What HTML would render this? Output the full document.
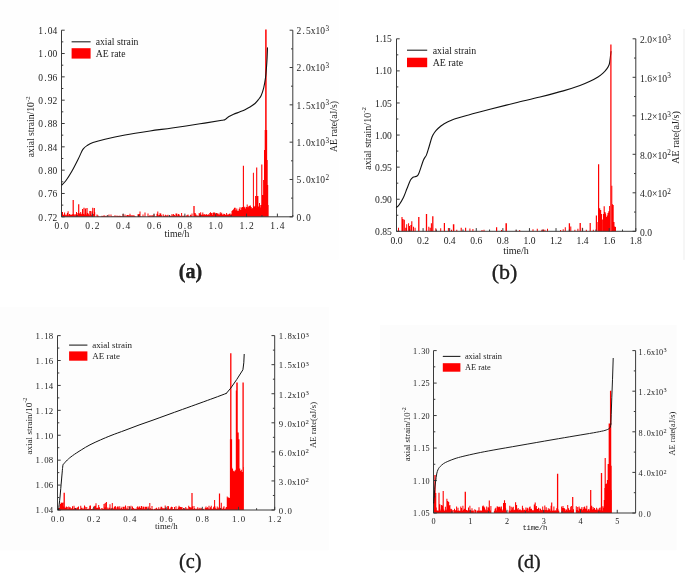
<!DOCTYPE html>
<html lang="en"><head><meta charset="utf-8"><title>Axial strain and AE rate</title>
<style>html,body{margin:0;padding:0;background:#fff}svg{display:block}text{font-family:'Liberation Serif',serif;fill:#222}</style></head><body>
<svg width="685" height="574" viewBox="0 0 685 574">
<rect width="685" height="574" fill="#fff"/>
<rect x="0" y="0" width="338.5" height="259.5" fill="#fefefe"/>
<rect x="0" y="307" width="328.8" height="243.4" fill="#fdfdfd"/>
<rect x="380" y="324.8" width="296.6" height="225.5" fill="#fcfcfc"/>
<rect x="683" y="29" width="2" height="230.8" fill="#f6f6f6"/>
<g transform="translate(0 0)">
<path d="M62 216.8V212.07h1V216.8zM62.7 216.8V215.01h1V216.8zM63.4 216.8V214.39h1V216.8zM64.1 216.8V212.5h1V216.8zM64.8 216.8V215.3h1V216.8zM65.5 216.8V214.46h1V216.8zM66.2 216.8V215.3h1V216.8zM66.9 216.8V212.96h1V216.8zM67.6 216.8V211.28h1V216.8zM68.3 216.8V215.3h1V216.8zM69 216.8V213.98h1V216.8zM69.7 216.8V214.65h1V216.8zM70.4 216.8V214.5h1V216.8zM71.1 216.8V215.08h1V216.8zM71.8 216.8V214.19h1V216.8zM72.5 216.8V215.06h1V216.8zM73.2 216.8V214.35h1V216.8zM73.9 216.8V215.3h1V216.8zM74.6 216.8V213.91h1V216.8zM75.3 216.8V215.14h1V216.8zM76 216.8V211.97h1V216.8zM76.7 216.8V214.8h1V216.8zM77.4 216.8V213.02h1V216.8zM78.1 216.8V214.5h1V216.8zM78.8 216.8V213.28h1V216.8zM79.5 216.8V213.75h1V216.8zM80.2 216.8V212.08h1V216.8zM80.9 216.8V213.74h1V216.8zM81.6 216.8V215.03h1V216.8zM82.3 216.8V214.53h1V216.8zM83 216.8V213.94h1V216.8zM83.7 216.8V213.25h1V216.8zM84.4 216.8V214.43h1V216.8zM85.1 216.8V212.57h1V216.8zM85.8 216.8V214.6h1V216.8zM86.5 216.8V215.3h1V216.8zM87.2 216.8V213.07h1V216.8zM87.9 216.8V213.72h1V216.8zM88.6 216.8V215.17h1V216.8zM89.3 216.8V210.96h1V216.8zM90 216.8V213.99h1V216.8zM90.7 216.8V215.06h1V216.8zM91.4 216.8V211.22h1V216.8zM92.1 216.8V214.35h1V216.8zM92.8 216.8V213.95h1V216.8zM93.5 216.8V215.3h1V216.8zM94.2 216.8V212.27h1V216.8zM72.6 216.8V200.1h1.2V216.8zM78.1 216.8V204.2h1.2V216.8zM82 216.8V209h1V216.8zM83.4 216.8V207.7h1.2V216.8zM85 216.8V208.5h1V216.8zM86.4 216.8V208h1.2V216.8zM89.9 216.8V211h1V216.8zM92.2 216.8V207.7h1V216.8zM93.7 216.8V208h1.2V216.8zM96.5 216.8V214.53h1V216.8zM97.5 216.8V215.45h1V216.8zM98.5 216.8V216.29h1V216.8zM100.5 216.8V216.19h1V216.8zM101.5 216.8V215.67h1V216.8zM102.5 216.8V215.98h1V216.8zM103.5 216.8V215.25h1V216.8zM104.5 216.8V215.73h1V216.8zM105.5 216.8V216.16h1V216.8zM106.5 216.8V215.38h1V216.8zM108.5 216.8V214.58h1V216.8zM110.5 216.8V214.39h1V216.8zM111.5 216.8V216.28h1V216.8zM112.5 216.8V216.3h1V216.8zM113.5 216.8V216.13h1V216.8zM114.5 216.8V215.25h1V216.8zM115.5 216.8V216.29h1V216.8zM116.5 216.8V215.55h1V216.8zM117.5 216.8V216.1h1V216.8zM118.5 216.8V215.74h1V216.8zM119.5 216.8V215.69h1V216.8zM120.5 216.8V215.9h1V216.8zM121.5 216.8V216.2h1V216.8zM122.5 216.8V214.11h1V216.8zM123.5 216.8V216.18h1V216.8zM124.5 216.8V214.5h1V216.8zM125.5 216.8V216.3h1V216.8zM126.5 216.8V214.9h1V216.8zM127.5 216.8V214.96h1V216.8zM128.5 216.8V215.5h1V216.8zM129.5 216.8V213.73h1V216.8zM130.5 216.8V215.58h1V216.8zM131.5 216.8V215.16h1V216.8zM132.5 216.8V215.4h1V216.8zM133.5 216.8V215.23h1V216.8zM134.5 216.8V216.06h1V216.8zM137.5 216.8V214.31h1V216.8zM138.5 216.8V213.92h1V216.8zM139.5 216.8V215.83h1V216.8zM140.5 216.8V216.3h1V216.8zM142.5 216.8V214.49h1V216.8zM144.5 216.8V216.22h1V216.8zM147.5 216.8V215.6h1V216.8zM148.5 216.8V215.98h1V216.8zM149.5 216.8V215.07h1V216.8zM150.5 216.8V216.2h1V216.8zM151.5 216.8V215.1h1V216.8zM152.5 216.8V215.63h1V216.8zM153.5 216.8V214.25h1V216.8zM155.5 216.8V216.19h1V216.8zM156.5 216.8V213.67h1V216.8zM157.5 216.8V215.99h1V216.8zM158.5 216.8V215.07h1V216.8zM139.5 216.8V211.5h1V216.8zM144.5 216.8V212.5h1V216.8zM147.5 216.8V213.5h1V216.8zM157.3 216.8V211.5h1V216.8zM159.5 216.8V213.37h1V216.8zM160.3 216.8V213.62h1V216.8zM161.1 216.8V215.14h1V216.8zM162.7 216.8V214.33h1V216.8zM163.5 216.8V215.72h1V216.8zM164.3 216.8V215.67h1V216.8zM165.1 216.8V214.79h1V216.8zM165.9 216.8V215.42h1V216.8zM166.7 216.8V215.56h1V216.8zM167.5 216.8V214.78h1V216.8zM169.1 216.8V215.75h1V216.8zM169.9 216.8V215.77h1V216.8zM170.7 216.8V215.78h1V216.8zM171.5 216.8V214.06h1V216.8zM172.3 216.8V215.47h1V216.8zM173.1 216.8V214.09h1V216.8zM173.9 216.8V214.89h1V216.8zM174.7 216.8V215.78h1V216.8zM175.5 216.8V213.58h1V216.8zM176.3 216.8V213.4h1V216.8zM177.1 216.8V215.58h1V216.8zM177.9 216.8V213.88h1V216.8zM178.7 216.8V214.54h1V216.8zM179.5 216.8V215.76h1V216.8zM180.3 216.8V215.8h1V216.8zM181.1 216.8V213.07h1V216.8zM181.9 216.8V215.76h1V216.8zM182.7 216.8V215.64h1V216.8zM183.5 216.8V215.77h1V216.8zM184.3 216.8V215.4h1V216.8zM185.9 216.8V215.56h1V216.8zM186.7 216.8V215.16h1V216.8zM187.5 216.8V214.61h1V216.8zM188.3 216.8V215.8h1V216.8zM189.9 216.8V214.8h1V216.8zM190.7 216.8V215.53h1V216.8zM191.5 216.8V213.46h1V216.8zM193.9 216.8V215.67h1V216.8zM194.7 216.8V213.11h1V216.8zM195.5 216.8V214.47h1V216.8zM196.3 216.8V215.61h1V216.8zM197.1 216.8V215.54h1V216.8zM197.9 216.8V215.78h1V216.8zM198.7 216.8V213.09h1V216.8zM199.5 216.8V213.72h1V216.8zM200.2 216.8V212.35h1V216.8zM200.9 216.8V214.72h1V216.8zM201.6 216.8V214.7h1V216.8zM202.3 216.8V212.6h1V216.8zM203 216.8V214.66h1V216.8zM203.7 216.8V213.99h1V216.8zM204.4 216.8V214.82h1V216.8zM205.1 216.8V214.82h1V216.8zM205.8 216.8V214.09h1V216.8zM206.5 216.8V214.98h1V216.8zM207.2 216.8V214.75h1V216.8zM207.9 216.8V214.27h1V216.8zM208.6 216.8V214.93h1V216.8zM209.3 216.8V213.1h1V216.8zM210 216.8V212.3h1V216.8zM210.7 216.8V213.19h1V216.8zM211.4 216.8V212.98h1V216.8zM212.1 216.8V214.97h1V216.8zM212.8 216.8V212.46h1V216.8zM213.5 216.8V212.6h1V216.8zM214.2 216.8V212.51h1V216.8zM214.9 216.8V214.7h1V216.8zM215.6 216.8V213.06h1V216.8zM216.3 216.8V212.88h1V216.8zM217 216.8V213.57h1V216.8zM217.7 216.8V214.44h1V216.8zM218.4 216.8V213.47h1V216.8zM219.1 216.8V214.81h1V216.8zM219.8 216.8V212.22h1V216.8zM220.5 216.8V214.09h1V216.8zM221.2 216.8V212.83h1V216.8zM221.9 216.8V214.53h1V216.8zM222.6 216.8V214.8h1V216.8zM223.3 216.8V213.75h1V216.8zM224 216.8V214.02h1V216.8zM224.7 216.8V214.62h1V216.8zM225.4 216.8V214.95h1V216.8zM226.1 216.8V212.94h1V216.8zM226.8 216.8V214.52h1V216.8zM227.5 216.8V214.84h1V216.8zM228.2 216.8V214.16h1V216.8zM228.9 216.8V213.74h1V216.8zM229.6 216.8V213.59h1V216.8zM230.3 216.8V214.83h1V216.8zM231 216.8V214.31h1V216.8zM193.35 216.8V206h1.3V216.8zM231.5 216.8V210.9h1V216.8zM232.3 216.8V210.04h1V216.8zM233.1 216.8V209.35h1V216.8zM233.9 216.8V207.85h1V216.8zM234.7 216.8V207.7h1V216.8zM235.5 216.8V210.17h1V216.8zM236.3 216.8V208.57h1V216.8zM237.1 216.8V210.86h1V216.8zM237.9 216.8V210.66h1V216.8zM238.7 216.8V208.79h1V216.8zM239.5 216.8V207.22h1V216.8zM240.3 216.8V209.99h1V216.8zM241.1 216.8V207.46h1V216.8zM241.9 216.8V206.88h1V216.8zM242.7 216.8V209.06h1V216.8zM243.5 216.8V207.43h1V216.8zM244.3 216.8V206.7h1V216.8zM245.1 216.8V208.5h1V216.8zM245.9 216.8V207.07h1V216.8zM246.7 216.8V206.83h1V216.8zM247.5 216.8V207.29h1V216.8zM248.3 216.8V206.13h1V216.8zM249.1 216.8V205.87h1V216.8zM249.9 216.8V205.51h1V216.8zM250.7 216.8V206.96h1V216.8zM251.5 216.8V208.43h1V216.8zM252.3 216.8V208.02h1V216.8zM253.1 216.8V208.05h1V216.8zM253.9 216.8V206.54h1V216.8zM254.7 216.8V205.68h1V216.8zM255.5 216.8V208.39h1V216.8zM256.3 216.8V205.77h1V216.8zM257.1 216.8V205.52h1V216.8zM257.9 216.8V206.89h1V216.8zM258.7 216.8V206.11h1V216.8zM259.5 216.8V207.41h1V216.8zM260.3 216.8V205.04h1V216.8zM261.1 216.8V207.69h1V216.8zM242.85 216.8V165.8h1.1V216.8zM246.7 216.8V204.6h1V216.8zM252.9 216.8V172.8h1V216.8zM256.15 216.8V167.5h1.1V216.8zM255.1 216.8V196h1V216.8zM257.2 216.8V196h1.2V216.8zM259 216.8V203h1V216.8zM261.25 216.8V164.4h1.1V216.8zM262.3 216.8V195h1V216.8zM263.1 216.8V180h1V216.8zM264 216.8V150h1V216.8zM264.7 216.8V130h1V216.8zM265.15 216.8V29.6h1.5V216.8zM266.25 216.8V130h0.9V216.8zM266.9 216.8V160h0.8V216.8zM267.4 216.8V185h0.8V216.8zM267.95 216.8V205h0.7V216.8z" fill="#ff0000"/>
<path d="M61.5 30.2V216.8H292.8V30.2" fill="none" stroke="#3a3a3a" stroke-width="1"/>
<path d="M61.5 216.8v-3.2M92.34 216.8v-3.2M123.18 216.8v-3.2M154.02 216.8v-3.2M184.86 216.8v-3.2M215.7 216.8v-3.2M246.54 216.8v-3.2M277.38 216.8v-3.2M76.92 216.8v-1.8M107.76 216.8v-1.8M138.6 216.8v-1.8M169.44 216.8v-1.8M200.28 216.8v-1.8M231.12 216.8v-1.8M261.96 216.8v-1.8M292.8 216.8v-1.8M61.5 30.2h3.2M61.5 53.53h3.2M61.5 76.85h3.2M61.5 100.18h3.2M61.5 123.5h3.2M61.5 146.83h3.2M61.5 170.15h3.2M61.5 193.48h3.2M61.5 216.8h3.2M61.5 41.86h1.8M61.5 65.19h1.8M61.5 88.51h1.8M61.5 111.84h1.8M61.5 135.16h1.8M61.5 158.49h1.8M61.5 181.81h1.8M61.5 205.14h1.8M292.8 30.2h-3.2M292.8 67.52h-3.2M292.8 104.84h-3.2M292.8 142.16h-3.2M292.8 179.48h-3.2M292.8 216.8h-3.2M292.8 48.86h-1.8M292.8 86.18h-1.8M292.8 123.5h-1.8M292.8 160.82h-1.8M292.8 198.14h-1.8" fill="none" stroke="#3a3a3a" stroke-width="1"/>
<path d="M62 184.8 C62.67 184.08 64.33 182.8 66 180.5 C67.67 178.2 70 174.5 72 171 C74 167.5 76.42 162.67 78 159.5 C79.58 156.33 80.58 153.82 81.5 152 C82.42 150.18 82.58 149.67 83.5 148.6 C84.42 147.53 85.42 146.6 87 145.6 C88.58 144.6 90 143.67 93 142.6 C96 141.53 99.67 140.47 105 139.2 C110.33 137.93 117.5 136.37 125 135 C132.5 133.63 142.17 132.17 150 131 C157.83 129.83 163.67 129.2 172 128 C180.33 126.8 191.67 125.08 200 123.8 C208.33 122.52 217.83 121 222 120.3 C226.17 119.6 224.17 119.98 225 119.6 C225.83 119.22 226.33 118.52 227 118 C227.67 117.48 227.9 117.12 229 116.5 C230.1 115.88 231.77 115.08 233.6 114.3 C235.43 113.52 238.1 112.57 240 111.8 C241.9 111.03 243.33 110.5 245 109.7 C246.67 108.9 248.33 108.03 250 107 C251.67 105.97 253.58 104.75 255 103.5 C256.42 102.25 257.47 100.85 258.5 99.5 C259.53 98.15 260.33 97.33 261.2 95.4 C262.07 93.47 262.98 90.83 263.7 87.9 C264.42 84.97 265.03 81.28 265.5 77.8 C265.97 74.32 266.23 70.3 266.5 67 C266.77 63.7 266.93 61.22 267.1 58 C267.27 54.78 267.43 49.42 267.5 47.7" fill="none" stroke="#111" stroke-width="1.1" stroke-linejoin="round" stroke-linecap="round"/>
<text x="56.75 61.5 66.25" y="229.3" font-size="9.5" text-anchor="middle">0.0</text>
<text x="87.59 92.34 97.09" y="229.3" font-size="9.5" text-anchor="middle">0.2</text>
<text x="118.43 123.18 127.93" y="229.3" font-size="9.5" text-anchor="middle">0.4</text>
<text x="149.27 154.02 158.77" y="229.3" font-size="9.5" text-anchor="middle">0.6</text>
<text x="180.11 184.86 189.61" y="229.3" font-size="9.5" text-anchor="middle">0.8</text>
<text x="210.95 215.7 220.45" y="229.3" font-size="9.5" text-anchor="middle">1.0</text>
<text x="241.79 246.54 251.29" y="229.3" font-size="9.5" text-anchor="middle">1.2</text>
<text x="272.63 277.38 282.13" y="229.3" font-size="9.5" text-anchor="middle">1.4</text>
<text x="40.67 45.42 50.17 54.92" y="33.9" font-size="9.5" text-anchor="middle">1.04</text>
<text x="40.67 45.42 50.17 54.92" y="57.23" font-size="9.5" text-anchor="middle">1.00</text>
<text x="40.67 45.42 50.17 54.92" y="80.55" font-size="9.5" text-anchor="middle">0.96</text>
<text x="40.67 45.42 50.17 54.92" y="103.88" font-size="9.5" text-anchor="middle">0.92</text>
<text x="40.67 45.42 50.17 54.92" y="127.2" font-size="9.5" text-anchor="middle">0.88</text>
<text x="40.67 45.42 50.17 54.92" y="150.53" font-size="9.5" text-anchor="middle">0.84</text>
<text x="40.67 45.42 50.17 54.92" y="173.85" font-size="9.5" text-anchor="middle">0.80</text>
<text x="40.67 45.42 50.17 54.92" y="197.18" font-size="9.5" text-anchor="middle">0.76</text>
<text x="40.67 45.42 50.17 54.92" y="220.5" font-size="9.5" text-anchor="middle">0.72</text>
<text x="298.98 303.73 308.48 313.23 317.98 322.73" y="33.9" font-size="9.5" text-anchor="middle">2.5x10</text>
<text x="325.4" y="30.76" font-size="7.22" text-anchor="start">3</text>
<text x="298.98 303.73 308.48 313.23 317.98 322.73" y="71.22" font-size="9.5" text-anchor="middle">2.0x10</text>
<text x="325.4" y="68.09" font-size="7.22" text-anchor="start">3</text>
<text x="298.98 303.73 308.48 313.23 317.98 322.73" y="108.54" font-size="9.5" text-anchor="middle">1.5x10</text>
<text x="325.4" y="105.41" font-size="7.22" text-anchor="start">3</text>
<text x="298.98 303.73 308.48 313.23 317.98 322.73" y="145.86" font-size="9.5" text-anchor="middle">1.0x10</text>
<text x="325.4" y="142.72" font-size="7.22" text-anchor="start">3</text>
<text x="298.98 303.73 308.48 313.23 317.98 322.73" y="183.18" font-size="9.5" text-anchor="middle">5.0x10</text>
<text x="325.4" y="180.05" font-size="7.22" text-anchor="start">2</text>
<text x="298.98 303.73 308.48" y="220.5" font-size="9.5" text-anchor="middle">0.0</text>
<path d="M71.6 41.8H90.6" stroke="#222" stroke-width="1.1" fill="none"/>
<rect x="71.6" y="48.2" width="19" height="10.4" fill="#ff0000"/>
<text x="95.7" y="44.71" font-size="9.7" text-anchor="start">axial strain</text>
<text x="95.7" y="56.6" font-size="9.7" text-anchor="start">AE rate</text>
<text x="177" y="237" font-size="9.7" text-anchor="middle">time/h</text>
<text transform="translate(34.4 126.8) rotate(-90)" font-size="9.7" text-anchor="middle">axial strain/10<tspan font-size="6.79" dy="-4.66">-2</tspan></text>
<text transform="translate(337.3 126.5) rotate(-90)" font-size="9.7" text-anchor="middle">AE rate(aJ/s)</text>
<text x="190.5" y="277.7" font-size="20" text-anchor="middle" font-weight="bold" fill="#000" stroke="#000" stroke-width="0.3">(a)</text>
</g>
<g transform="translate(0 0)">
<path d="M398 231.3V227.7h1V231.3zM401.45 231.3V217.1h1.1V231.3zM402.5 231.3V218.9h1V231.3zM403.75 231.3V219.8h1.1V231.3zM405.2 231.3V227.7h1V231.3zM406.2 231.3V224.2h1V231.3zM408.1 231.3V223.3h1V231.3zM409 231.3V225.9h1V231.3zM410.4 231.3V225h1V231.3zM411.25 231.3V221.2h1.1V231.3zM413 231.3V226.8h1V231.3zM414.6 231.3V227.7h1V231.3zM418.15 231.3V217.1h1.3V231.3zM425.85 231.3V214h1.3V231.3zM428.3 231.3V226.8h1V231.3zM429.7 231.3V227.7h1V231.3zM430.85 231.3V223.3h1.1V231.3zM432.15 231.3V216.3h1.3V231.3zM435.3 231.3V228.2h1V231.3zM440.2 231.3V228.2h1V231.3zM443.8 231.3V222.9h1.2V231.3zM447.9 231.3V228h1V231.3zM451 231.3V229.8h1V231.3zM452.85 231.3V224.2h1.5V231.3zM456.3 231.3V229.8h1V231.3zM460.65 231.3V227.7h1.1V231.3zM465.05 231.3V227.7h1.1V231.3zM469.4 231.3V228.5h1V231.3zM472.4 231.3V229h1V231.3zM481.5 231.3V230h1V231.3zM483.5 231.3V229.8h1V231.3zM496 231.3V227.3h1.2V231.3zM501 231.3V230h1V231.3zM505.45 231.3V223.2h1.5V231.3zM515.7 231.3V230.3h1V231.3zM519.2 231.3V230h1V231.3zM532.5 231.3V229.3h1V231.3zM536.8 231.3V228.7h1V231.3zM541.3 231.3V229.7h1V231.3zM543 231.3V229.5h1V231.3zM544.4 231.3V229.7h1V231.3zM547 231.3V228.7h1V231.3zM560.1 231.3V230h1V231.3zM562.7 231.3V229.3h1V231.3zM564.8 231.3V227.3h1V231.3zM568.75 231.3V223.2h1.3V231.3zM570.3 231.3V226.6h1V231.3zM574.4 231.3V229.7h1V231.3zM577.4 231.3V228.7h1V231.3zM579.55 231.3V223h1.3V231.3zM581.8 231.3V227.7h1V231.3zM585.8 231.3V229.7h1V231.3zM589.6 231.3V223h1.2V231.3zM592.8 231.3V229.7h1V231.3zM595.8 231.3V215.4h1.2V231.3zM598 231.3V164.3h1.2V231.3zM597.4 231.3V222h1V231.3zM599 231.3V208.2h1.2V231.3zM600 231.3V210h1.2V231.3zM601.1 231.3V214h1V231.3zM602.2 231.3V219.5h1V231.3zM603 231.3V214h1V231.3zM603.65 231.3V206.2h1.1V231.3zM604.5 231.3V212h1V231.3zM605.1 231.3V213.4h1V231.3zM605.9 231.3V217h1V231.3zM606.7 231.3V215.4h1V231.3zM607.5 231.3V213h1V231.3zM608.3 231.3V211.3h1V231.3zM609.1 231.3V206h1V231.3zM611.3 231.3V185.8h1V231.3zM612 231.3V204.2h1V231.3zM612.7 231.3V205h1V231.3zM613.5 231.3V222h1V231.3zM614.3 231.3V226.6h1V231.3zM615.2 231.3V227h0.8V231.3z" fill="#ff0000"/>
<path d="M396.5 38.8V231.3H635.8V38.8" fill="none" stroke="#3a3a3a" stroke-width="1"/>
<path d="M396.5 231.3v-3.2M423.09 231.3v-3.2M449.68 231.3v-3.2M476.27 231.3v-3.2M502.86 231.3v-3.2M529.44 231.3v-3.2M556.03 231.3v-3.2M582.62 231.3v-3.2M609.21 231.3v-3.2M635.8 231.3v-3.2M409.79 231.3v-1.8M436.38 231.3v-1.8M462.97 231.3v-1.8M489.56 231.3v-1.8M516.15 231.3v-1.8M542.74 231.3v-1.8M569.33 231.3v-1.8M595.92 231.3v-1.8M622.51 231.3v-1.8M396.5 38.8h3.2M396.5 70.88h3.2M396.5 102.97h3.2M396.5 135.05h3.2M396.5 167.13h3.2M396.5 199.22h3.2M396.5 231.3h3.2M396.5 54.84h1.8M396.5 86.92h1.8M396.5 119.01h1.8M396.5 151.09h1.8M396.5 183.17h1.8M396.5 215.26h1.8M635.8 38.8h-3.2M635.8 77.3h-3.2M635.8 115.8h-3.2M635.8 154.3h-3.2M635.8 192.8h-3.2M635.8 231.3h-3.2M635.8 58.05h-1.8M635.8 96.55h-1.8M635.8 135.05h-1.8M635.8 173.55h-1.8M635.8 212.05h-1.8" fill="none" stroke="#3a3a3a" stroke-width="1"/>
<path d="M396.5 207.4 C396.92 207 397.87 206.6 399 205 C400.13 203.4 401.97 200.55 403.3 197.8 C404.63 195.05 405.8 191.47 407 188.5 C408.2 185.53 409.5 181.87 410.5 180 C411.5 178.13 411.92 177.97 413 177.3 C414.08 176.63 416 176.72 417 176 C418 175.28 417.93 175.63 419 173 C420.07 170.37 422.17 163.18 423.4 160.2 C424.63 157.22 425.47 157.3 426.4 155.1 C427.33 152.9 428.07 150.02 429 147 C429.93 143.98 431.08 139.42 432 137 C432.92 134.58 433.5 133.92 434.5 132.5 C435.5 131.08 436.5 129.88 438 128.5 C439.5 127.12 441.17 125.62 443.5 124.2 C445.83 122.78 447.82 121.53 452 120 C456.18 118.47 462.27 116.78 468.6 115 C474.93 113.22 482.27 111.3 490 109.3 C497.73 107.3 506.67 105.05 515 103 C523.33 100.95 531.95 99.02 540 97 C548.05 94.98 556.63 92.82 563.3 90.9 C569.97 88.98 575.55 87.1 580 85.5 C584.45 83.9 587 82.72 590 81.3 C593 79.88 595.83 78.35 598 77 C600.17 75.65 601.5 74.6 603 73.2 C604.5 71.8 605.97 70.05 607 68.6 C608.03 67.15 608.7 65.93 609.2 64.5 C609.7 63.07 609.77 61.58 610 60 C610.23 58.42 610.43 56.42 610.6 55 C610.77 53.58 610.93 52.08 611 51.5" fill="none" stroke="#111" stroke-width="1.1" stroke-linejoin="round" stroke-linecap="round"/>
<path d="M610.27 231.3V44.6h1.25V231.3z" fill="#ff0000"/>
<text x="396.5" y="244" font-size="9.6" text-anchor="middle">0.0</text>
<text x="423.09" y="244" font-size="9.6" text-anchor="middle">0.2</text>
<text x="449.68" y="244" font-size="9.6" text-anchor="middle">0.4</text>
<text x="476.27" y="244" font-size="9.6" text-anchor="middle">0.6</text>
<text x="502.86" y="244" font-size="9.6" text-anchor="middle">0.8</text>
<text x="529.44" y="244" font-size="9.6" text-anchor="middle">1.0</text>
<text x="556.03" y="244" font-size="9.6" text-anchor="middle">1.2</text>
<text x="582.62" y="244" font-size="9.6" text-anchor="middle">1.4</text>
<text x="609.21" y="244" font-size="9.6" text-anchor="middle">1.6</text>
<text x="635.8" y="244" font-size="9.6" text-anchor="middle">1.8</text>
<text x="391.9" y="42.4" font-size="9.6" text-anchor="end">1.15</text>
<text x="391.9" y="74.48" font-size="9.6" text-anchor="end">1.10</text>
<text x="391.9" y="106.57" font-size="9.6" text-anchor="end">1.05</text>
<text x="391.9" y="138.65" font-size="9.6" text-anchor="end">1.00</text>
<text x="391.9" y="170.73" font-size="9.6" text-anchor="end">0.95</text>
<text x="391.9" y="202.82" font-size="9.6" text-anchor="end">0.90</text>
<text x="391.9" y="234.9" font-size="9.6" text-anchor="end">0.85</text>
<text x="640" y="43.1" font-size="9.6" text-anchor="start">2.0×10</text>
<text x="667.31" y="39.93" font-size="7.3" text-anchor="start">3</text>
<text x="640" y="81.6" font-size="9.6" text-anchor="start">1.6×10</text>
<text x="667.31" y="78.43" font-size="7.3" text-anchor="start">3</text>
<text x="640" y="120.1" font-size="9.6" text-anchor="start">1.2×10</text>
<text x="667.31" y="116.93" font-size="7.3" text-anchor="start">3</text>
<text x="640" y="158.6" font-size="9.6" text-anchor="start">8.0×10</text>
<text x="667.31" y="155.43" font-size="7.3" text-anchor="start">2</text>
<text x="640" y="197.1" font-size="9.6" text-anchor="start">4.0×10</text>
<text x="667.31" y="193.93" font-size="7.3" text-anchor="start">2</text>
<text x="640" y="235.6" font-size="9.6" text-anchor="start">0.0</text>
<path d="M407 50.2H427.2" stroke="#222" stroke-width="1.1" fill="none"/>
<rect x="407" y="57.7" width="20.2" height="9.5" fill="#ff0000"/>
<text x="432.7" y="53.97" font-size="9.9" text-anchor="start">axial strain</text>
<text x="432.7" y="65.72" font-size="9.9" text-anchor="start">AE rate</text>
<text x="516" y="253.5" font-size="10" text-anchor="middle">time/h</text>
<text transform="translate(371 138.4) rotate(-90)" font-size="10" text-anchor="middle">axial strain/10<tspan font-size="7" dy="-4.8">-2</tspan></text>
<text transform="translate(678.7 137.4) rotate(-90)" font-size="10" text-anchor="middle">AE rate(aJ/s)</text>
<text x="504.5" y="278.8" font-size="22" text-anchor="middle" font-weight="normal" fill="#000" stroke="#000" stroke-width="0.3">(b)</text>
</g>
<g transform="translate(0 0)">
<path d="M58.5 510V507.96h1V510zM59.25 510V507.72h1V510zM60 510V508.98h1V510zM60.75 510V506.55h1V510zM61.5 510V508.81h1V510zM63 510V506.55h1V510zM63.75 510V507.57h1V510zM64.5 510V507.59h1V510zM65.25 510V508.04h1V510zM66 510V507.42h1V510zM66.75 510V506.99h1V510zM67.5 510V508.68h1V510zM68.25 510V506.38h1V510zM69 510V507.19h1V510zM69.75 510V507.22h1V510zM70.5 510V508.45h1V510zM71.25 510V508.31h1V510zM72 510V506.3h1V510zM72.75 510V508.94h1V510zM73.5 510V505.74h1V510zM74.25 510V507.63h1V510zM75 510V508.1h1V510zM75.75 510V508.57h1V510zM76.5 510V507.81h1V510zM77.25 510V507.37h1V510zM78 510V506.43h1V510zM79.5 510V508.91h1V510zM80.25 510V505.74h1V510zM81 510V507.87h1V510zM81.75 510V508.84h1V510zM82.5 510V507.85h1V510zM83.25 510V508.99h1V510zM84 510V505.57h1V510zM84.75 510V506.76h1V510zM85.5 510V508.92h1V510zM86.25 510V506.93h1V510zM87 510V508.99h1V510zM87.75 510V508.99h1V510zM88.5 510V508.62h1V510zM89.25 510V505.63h1V510zM90 510V505.51h1V510zM90.75 510V508.98h1V510zM91.5 510V509h1V510zM92.25 510V508.42h1V510zM93 510V508.91h1V510zM93.75 510V506.36h1V510zM94.5 510V505.78h1V510zM95.25 510V508.5h1V510zM96 510V508.05h1V510zM96.75 510V507.76h1V510zM97.5 510V507.65h1V510zM98.25 510V508.1h1V510zM99 510V507.18h1V510zM99.75 510V508.68h1V510zM101.25 510V507.95h1V510zM102 510V508.4h1V510zM102.75 510V509h1V510zM103.5 510V507.6h1V510zM104.25 510V507.62h1V510zM105 510V507.39h1V510zM105.75 510V507.25h1V510zM106.5 510V509h1V510zM107.25 510V507.4h1V510zM108 510V508.78h1V510zM108.75 510V507.77h1V510zM109.5 510V508.54h1V510zM110.25 510V508.52h1V510zM111 510V508.68h1V510zM111.75 510V506.91h1V510zM112.5 510V507.87h1V510zM113.25 510V508.66h1V510zM114 510V506.74h1V510zM114.75 510V508.88h1V510zM115.5 510V507.29h1V510zM116.25 510V508.64h1V510zM117 510V506.57h1V510zM117.75 510V506.44h1V510zM118.5 510V508.6h1V510zM119.25 510V506.26h1V510zM120 510V508.82h1V510zM120.75 510V508.02h1V510zM121.5 510V506.72h1V510zM122.25 510V508.88h1V510zM123 510V506.72h1V510zM123.75 510V506.72h1V510zM124.5 510V508.94h1V510zM125.25 510V506.79h1V510zM126 510V508.58h1V510zM126.75 510V508.38h1V510zM127.5 510V506.03h1V510zM128.25 510V509h1V510zM129 510V506.29h1V510zM130.5 510V505.84h1V510zM131.25 510V508.83h1V510zM132 510V506.55h1V510zM132.75 510V508.06h1V510zM133.5 510V508.59h1V510zM134.25 510V508.98h1V510zM135 510V508.71h1V510zM135.75 510V508.99h1V510zM136.5 510V507.32h1V510zM137.25 510V506.19h1V510zM138 510V507.83h1V510zM138.75 510V507.06h1V510zM139.5 510V508.69h1V510zM140.25 510V508.04h1V510zM141 510V505.91h1V510zM141.75 510V508.59h1V510zM142.5 510V506.4h1V510zM143.25 510V506.86h1V510zM144 510V508.86h1V510zM144.75 510V506.66h1V510zM145.5 510V506.81h1V510zM146.25 510V506.73h1V510zM147 510V509h1V510zM147.75 510V506.4h1V510zM148.5 510V508.74h1V510zM149.25 510V508.03h1V510zM150 510V508.22h1V510zM150.75 510V509h1V510zM151.5 510V508.94h1V510zM152.25 510V508.98h1V510zM153.75 510V508.97h1V510zM154.5 510V508.65h1V510zM155.25 510V508.57h1V510zM156 510V507.8h1V510zM156.75 510V508.87h1V510zM157.5 510V508.95h1V510zM158.25 510V507.21h1V510zM159 510V508.98h1V510zM159.75 510V508.51h1V510zM160.5 510V506.86h1V510zM161.25 510V506.75h1V510zM162 510V508.35h1V510zM162.75 510V508.14h1V510zM163.5 510V508.38h1V510zM164.25 510V508.26h1V510zM165 510V508h1V510zM165.75 510V508.98h1V510zM166.5 510V508.37h1V510zM167.25 510V505.93h1V510zM168 510V506.18h1V510zM168.75 510V508.76h1V510zM169.5 510V508.95h1V510zM170.25 510V507.46h1V510zM171 510V506.8h1V510zM171.75 510V507.12h1V510zM172.5 510V508.96h1V510zM173.25 510V509h1V510zM174 510V506.9h1V510zM174.75 510V508.97h1V510zM175.5 510V506.29h1V510zM176.25 510V509h1V510zM177 510V508.95h1V510zM177.75 510V507.41h1V510zM178.5 510V505.83h1V510zM179.25 510V506.77h1V510zM180 510V506.94h1V510zM180.75 510V507.21h1V510zM181.5 510V507.04h1V510zM182.25 510V508.99h1V510zM183 510V507.89h1V510zM183.75 510V508.79h1V510zM184.5 510V508.78h1V510zM185.25 510V507.01h1V510zM186 510V508.53h1V510zM186.75 510V508.57h1V510zM187.5 510V508.98h1V510zM188.25 510V505.69h1V510zM189 510V507.04h1V510zM189.75 510V507.33h1V510zM190.5 510V507.41h1V510zM191.25 510V508.18h1V510zM192 510V506.18h1V510zM192.75 510V508.97h1V510zM193.5 510V506.06h1V510zM194.25 510V508.31h1V510zM195 510V508.88h1V510zM195.75 510V508.86h1V510zM196.5 510V508.65h1V510zM197.25 510V507.33h1V510zM198 510V508.69h1V510zM198.75 510V508.4h1V510zM199.5 510V507.8h1V510zM200.25 510V508.83h1V510zM201 510V508.2h1V510zM201.75 510V508.9h1V510zM202.5 510V508.64h1V510zM203.25 510V508.93h1V510zM204.75 510V507.74h1V510zM205.5 510V506.56h1V510zM206.25 510V507.91h1V510zM207 510V507.18h1V510zM207.75 510V508.44h1V510zM208.5 510V505.77h1V510zM209.25 510V508.82h1V510zM210 510V507.2h1V510zM210.75 510V505.78h1V510zM211.5 510V508.79h1V510zM212.25 510V508.77h1V510zM213 510V507.26h1V510zM213.75 510V506.17h1V510zM214.5 510V506.38h1V510zM215.25 510V508.37h1V510zM216 510V508.97h1V510zM216.75 510V506.57h1V510zM217.5 510V508.55h1V510zM218.25 510V507.4h1V510zM219 510V508.61h1V510zM219.75 510V508.17h1V510zM220.5 510V507.8h1V510zM221.25 510V508.47h1V510zM222 510V508.95h1V510zM222.75 510V507.45h1V510zM223.5 510V506.25h1V510zM224.25 510V508.97h1V510zM225 510V508.51h1V510zM225.75 510V506.99h1V510zM59.8 510V504h1V510zM60.7 510V502.4h1V510zM61.6 510V503h1V510zM62.4 510V502.6h1V510zM63.55 510V492.8h1.3V510zM65.8 510V506.5h1V510zM95.5 510V503.3h1V510zM98.2 510V505h1V510zM103.5 510V504h1V510zM104.7 510V503h1V510zM105.85 510V502h1.1V510zM109.5 510V504.2h1V510zM111.8 510V503h1V510zM114.8 510V506h1V510zM125 510V505.5h1V510zM139.3 510V506.3h1V510zM149.3 510V503h1V510zM151.5 510V506h1V510zM164.7 510V505.5h1V510zM191.4 510V493h1.2V510zM214.1 510V500h1V510zM218.9 510V493.4h1.2V510zM220.8 510V502.7h1V510zM226.75 510V496.39h0.9V510zM227.55 510V497.53h0.9V510zM228.35 510V497.46h0.9V510zM229.15 510V497.92h0.9V510zM230.15 510V353.2h1.3V510zM229.9 510V439.3h1.4V510zM230.9 510V439.3h1.2V510zM231.4 510V467.7h1V510zM232.15 510V468.76h0.9V510zM232.95 510V470.72h0.9V510zM233.75 510V471.55h0.9V510zM234.55 510V470.39h0.9V510zM235.35 510V469.84h0.9V510zM235 510V486h0.6V510zM236.25 510V382.6h1.5V510zM235.8 510V390.5h1.8V510zM236.5 510V432.6h2.2V510zM236.9 510V439.3h2.6V510zM238.3 510V446h1.2V510zM239.35 510V468.38h0.9V510zM240.15 510V470.66h0.9V510zM240.95 510V469.81h0.9V510zM241.75 510V472.01h0.9V510zM242.45 510V382.6h1.3V510zM242.7 510V467h1.2V510z" fill="#ff0000"/>
<path d="M57.5 335.6V510H274.7V335.6" fill="none" stroke="#3a3a3a" stroke-width="1"/>
<path d="M57.5 510v-3.2M93.7 510v-3.2M129.9 510v-3.2M166.1 510v-3.2M202.3 510v-3.2M238.5 510v-3.2M274.7 510v-3.2M75.6 510v-1.8M111.8 510v-1.8M148 510v-1.8M184.2 510v-1.8M220.4 510v-1.8M256.6 510v-1.8M57.5 335.6h3.2M57.5 360.51h3.2M57.5 385.43h3.2M57.5 410.34h3.2M57.5 435.26h3.2M57.5 460.17h3.2M57.5 485.09h3.2M57.5 510h3.2M57.5 348.06h1.8M57.5 372.97h1.8M57.5 397.89h1.8M57.5 422.8h1.8M57.5 447.71h1.8M57.5 472.63h1.8M57.5 497.54h1.8M274.7 335.6h-3.2M274.7 364.67h-3.2M274.7 393.73h-3.2M274.7 422.8h-3.2M274.7 451.87h-3.2M274.7 480.93h-3.2M274.7 510h-3.2M274.7 350.13h-1.8M274.7 379.2h-1.8M274.7 408.27h-1.8M274.7 437.33h-1.8M274.7 466.4h-1.8M274.7 495.47h-1.8" fill="none" stroke="#3a3a3a" stroke-width="1"/>
<path d="M58.6 509.5 C58.83 507.42 59.52 501.92 60 497 C60.48 492.08 61.03 485.17 61.5 480 C61.97 474.83 62.48 468.6 62.8 466 C63.12 463.4 62.65 465.4 63.4 464.4 C64.15 463.4 65.78 461.45 67.3 460 C68.82 458.55 70.17 457.38 72.5 455.7 C74.83 454.02 78.38 451.72 81.3 449.9 C84.22 448.08 86.8 446.47 90 444.8 C93.2 443.13 97 441.45 100.5 439.9 C104 438.35 106.92 437.1 111 435.5 C115.08 433.9 120.33 432.05 125 430.3 C129.67 428.55 134.33 426.7 139 425 C143.67 423.3 148.33 421.77 153 420.1 C157.67 418.43 162.08 416.78 167 415 C171.92 413.22 177 411.38 182.5 409.4 C188 407.42 194.75 405 200 403.1 C205.25 401.2 209.62 399.62 214 398 C218.38 396.38 224.25 394.17 226.3 393.4" fill="none" stroke="#111" stroke-width="1" stroke-linejoin="round" stroke-linecap="round"/>
<path d="M226.3 393.4 L230.7 388.2 L236.8 379.4 L242.9 369.8 L243.8 362.8 L244.2 354.4" fill="none" stroke="#111" stroke-width="1" stroke-linejoin="round" stroke-linecap="round"/>
<text x="53.1 57.5 61.9" y="521.7" font-size="8.8" text-anchor="middle">0.0</text>
<text x="89.3 93.7 98.1" y="521.7" font-size="8.8" text-anchor="middle">0.2</text>
<text x="125.5 129.9 134.3" y="521.7" font-size="8.8" text-anchor="middle">0.4</text>
<text x="161.7 166.1 170.5" y="521.7" font-size="8.8" text-anchor="middle">0.6</text>
<text x="197.9 202.3 206.7" y="521.7" font-size="8.8" text-anchor="middle">0.8</text>
<text x="234.1 238.5 242.9" y="521.7" font-size="8.8" text-anchor="middle">1.0</text>
<text x="270.3 274.7 279.1" y="521.7" font-size="8.8" text-anchor="middle">1.2</text>
<text x="37.7 42.1 46.5 50.9" y="338.9" font-size="8.8" text-anchor="middle">1.18</text>
<text x="37.7 42.1 46.5 50.9" y="363.81" font-size="8.8" text-anchor="middle">1.16</text>
<text x="37.7 42.1 46.5 50.9" y="388.73" font-size="8.8" text-anchor="middle">1.14</text>
<text x="37.7 42.1 46.5 50.9" y="413.64" font-size="8.8" text-anchor="middle">1.12</text>
<text x="37.7 42.1 46.5 50.9" y="438.56" font-size="8.8" text-anchor="middle">1.10</text>
<text x="37.7 42.1 46.5 50.9" y="463.47" font-size="8.8" text-anchor="middle">1.08</text>
<text x="37.7 42.1 46.5 50.9" y="488.39" font-size="8.8" text-anchor="middle">1.06</text>
<text x="37.7 42.1 46.5 50.9" y="513.3" font-size="8.8" text-anchor="middle">1.04</text>
<text x="280.9 285.3 289.7 294.1 298.5 302.9" y="339.4" font-size="8.8" text-anchor="middle">1.8x10</text>
<text x="305.4" y="336.5" font-size="6.69" text-anchor="start">3</text>
<text x="280.9 285.3 289.7 294.1 298.5 302.9" y="368.47" font-size="8.8" text-anchor="middle">1.5x10</text>
<text x="305.4" y="365.56" font-size="6.69" text-anchor="start">3</text>
<text x="280.9 285.3 289.7 294.1 298.5 302.9" y="397.53" font-size="8.8" text-anchor="middle">1.2x10</text>
<text x="305.4" y="394.63" font-size="6.69" text-anchor="start">3</text>
<text x="280.9 285.3 289.7 294.1 298.5 302.9" y="426.6" font-size="8.8" text-anchor="middle">9.0x10</text>
<text x="305.4" y="423.7" font-size="6.69" text-anchor="start">2</text>
<text x="280.9 285.3 289.7 294.1 298.5 302.9" y="455.67" font-size="8.8" text-anchor="middle">6.0x10</text>
<text x="305.4" y="452.76" font-size="6.69" text-anchor="start">2</text>
<text x="280.9 285.3 289.7 294.1 298.5 302.9" y="484.73" font-size="8.8" text-anchor="middle">3.0x10</text>
<text x="305.4" y="481.83" font-size="6.69" text-anchor="start">2</text>
<text x="280.9 285.3 289.7" y="513.8" font-size="8.8" text-anchor="middle">0.0</text>
<path d="M69.1 345.1H87.4" stroke="#222" stroke-width="1.1" fill="none"/>
<rect x="69.1" y="351.4" width="18.3" height="9.3" fill="#ff0000"/>
<text x="92.2" y="347.8" font-size="9" text-anchor="start">axial strain</text>
<text x="92.2" y="359.02" font-size="9" text-anchor="start">AE rate</text>
<text x="166.3" y="528.5" font-size="8.8" text-anchor="middle">time/h</text>
<text transform="translate(31.5 426) rotate(-90)" font-size="9.1" text-anchor="middle">axial strain/10<tspan font-size="6.37" dy="-4.37">-2</tspan></text>
<text transform="translate(316.4 425) rotate(-90)" font-size="8.8" text-anchor="middle">AE rate(aJ/s)</text>
<text x="190.3" y="568.2" font-size="20.4" text-anchor="middle" font-weight="normal" fill="#000" stroke="#000" stroke-width="0.3">(c)</text>
</g>
<g transform="translate(0 0)">
<path d="M433.7 513V510.74h1V513zM434.4 513V510.67h1V513zM435.1 513V509.95h1V513zM435.8 513V507.4h1V513zM436.5 513V510.54h1V513zM437.2 513V510.39h1V513zM437.9 513V510.74h1V513zM438.6 513V506.24h1V513zM439.3 513V507.35h1V513zM440 513V510.6h1V513zM440.7 513V508.72h1V513zM441.4 513V506.93h1V513zM442.1 513V510.76h1V513zM442.8 513V508.41h1V513zM443.5 513V510.63h1V513zM444.2 513V510.76h1V513zM444.9 513V506.83h1V513zM445.6 513V510.32h1V513zM446.3 513V509.06h1V513zM447 513V506.99h1V513zM447.7 513V509.89h1V513zM448.4 513V509.82h1V513zM449.1 513V510.31h1V513zM449.8 513V510.79h1V513zM450.5 513V508.72h1V513zM451.2 513V509.29h1V513zM451.9 513V510.18h1V513zM453.3 513V509.9h1V513zM454 513V508.68h1V513zM454.7 513V510.13h1V513zM455.4 513V510.26h1V513zM456.1 513V506.47h1V513zM456.8 513V510.78h1V513zM457.5 513V507.7h1V513zM458.2 513V510.5h1V513zM458.9 513V510.63h1V513zM459.6 513V510.79h1V513zM460.3 513V506.55h1V513zM461 513V507.94h1V513zM461.7 513V510.8h1V513zM462.4 513V505.85h1V513zM463.1 513V509.91h1V513zM463.8 513V508.76h1V513zM464.5 513V510.34h1V513zM465.2 513V509.75h1V513zM465.9 513V510.03h1V513zM466.6 513V510.22h1V513zM467.3 513V510.79h1V513zM468 513V507.54h1V513zM468.7 513V510.35h1V513zM469.4 513V505.69h1V513zM470.1 513V510.57h1V513zM470.8 513V510.78h1V513zM471.5 513V508.37h1V513zM472.2 513V510.79h1V513zM472.9 513V510.47h1V513zM474.3 513V509.32h1V513zM475 513V509.91h1V513zM476.4 513V510.49h1V513zM477.1 513V510.79h1V513zM477.8 513V510.47h1V513zM478.5 513V507.14h1V513zM479.2 513V510.79h1V513zM479.9 513V510.49h1V513zM480.6 513V510.52h1V513zM481.3 513V510.69h1V513zM482 513V506.24h1V513zM482.7 513V505.6h1V513zM483.4 513V506.5h1V513zM484.1 513V507.49h1V513zM484.8 513V509.51h1V513zM485.5 513V510.56h1V513zM486.2 513V506.51h1V513zM486.9 513V510.2h1V513zM487.6 513V507.41h1V513zM488.3 513V507.28h1V513zM489 513V508.53h1V513zM489.7 513V510.42h1V513zM490.4 513V505.95h1V513zM493.9 513V510.78h1V513zM494.6 513V508.66h1V513zM495.3 513V507.85h1V513zM496 513V510.55h1V513zM496.7 513V506.29h1V513zM497.4 513V506.73h1V513zM498.1 513V507.32h1V513zM498.8 513V506.72h1V513zM499.5 513V506.71h1V513zM500.2 513V508.41h1V513zM500.9 513V506.59h1V513zM501.6 513V509.62h1V513zM502.3 513V510.8h1V513zM503 513V508.93h1V513zM503.7 513V506.84h1V513zM504.4 513V510.7h1V513zM505.1 513V507.68h1V513zM505.8 513V510.8h1V513zM508.6 513V510.51h1V513zM509.3 513V505.85h1V513zM510 513V510.73h1V513zM510.7 513V506.65h1V513zM511.4 513V509.8h1V513zM512.1 513V507.6h1V513zM512.8 513V506.68h1V513zM513.5 513V510.32h1V513zM514.2 513V509.85h1V513zM514.9 513V510.65h1V513zM515.6 513V510.64h1V513zM516.3 513V509.51h1V513zM517 513V509.24h1V513zM517.7 513V508.12h1V513zM518.4 513V510.28h1V513zM519.1 513V509.55h1V513zM519.8 513V509.56h1V513zM520.5 513V510.48h1V513zM521.2 513V510.13h1V513zM521.9 513V505.65h1V513zM522.6 513V508.37h1V513zM523.3 513V510.28h1V513zM524 513V509.64h1V513zM524.7 513V510.3h1V513zM525.4 513V507.52h1V513zM526.1 513V509.76h1V513zM526.8 513V507.65h1V513zM527.5 513V508.48h1V513zM528.2 513V510.76h1V513zM528.9 513V507.33h1V513zM529.6 513V506.49h1V513zM530.3 513V509.04h1V513zM531 513V508.76h1V513zM531.7 513V509.94h1V513zM532.4 513V510.63h1V513zM533.1 513V510.23h1V513zM533.8 513V510.8h1V513zM534.5 513V506.02h1V513zM535.2 513V507.4h1V513zM535.9 513V505.98h1V513zM536.6 513V508.99h1V513zM537.3 513V509.05h1V513zM538 513V507.74h1V513zM538.7 513V510.73h1V513zM539.4 513V508.38h1V513zM540.1 513V508.78h1V513zM540.8 513V510.31h1V513zM541.5 513V509.93h1V513zM542.2 513V506.54h1V513zM542.9 513V510.29h1V513zM543.6 513V510.23h1V513zM544.3 513V505.54h1V513zM545 513V509.95h1V513zM545.7 513V507.26h1V513zM546.4 513V509.9h1V513zM547.1 513V510.62h1V513zM547.8 513V508.25h1V513zM548.5 513V510.1h1V513zM549.2 513V508.74h1V513zM549.9 513V510.78h1V513zM550.6 513V505.63h1V513zM551.3 513V508.87h1V513zM552 513V510.76h1V513zM552.7 513V510.54h1V513zM553.4 513V506.58h1V513zM554.1 513V510.68h1V513zM554.8 513V510.33h1V513zM555.5 513V510.66h1V513zM556.2 513V508.34h1V513zM556.9 513V505.92h1V513zM557.6 513V509.34h1V513zM558.3 513V510.75h1V513zM561.1 513V506.6h1V513zM561.8 513V507.97h1V513zM562.5 513V505.99h1V513zM563.2 513V508.06h1V513zM563.9 513V508.25h1V513zM564.6 513V509.18h1V513zM565.3 513V510.67h1V513zM566 513V509.56h1V513zM566.7 513V510.65h1V513zM567.4 513V510.45h1V513zM568.1 513V508.33h1V513zM568.8 513V510.23h1V513zM569.5 513V509.85h1V513zM570.2 513V506.73h1V513zM570.9 513V505.91h1V513zM571.6 513V510.67h1V513zM572.3 513V507.21h1V513zM573 513V509.18h1V513zM575.8 513V506.3h1V513zM576.5 513V510.04h1V513zM577.2 513V507.12h1V513zM577.9 513V510.74h1V513zM578.6 513V506.39h1V513zM579.3 513V508.58h1V513zM580 513V508.89h1V513zM580.7 513V508.68h1V513zM581.4 513V506.9h1V513zM582.1 513V510.3h1V513zM582.8 513V508.73h1V513zM583.5 513V507.11h1V513zM584.2 513V506.57h1V513zM584.9 513V508.5h1V513zM585.6 513V508.86h1V513zM586.3 513V505.63h1V513zM587 513V510.76h1V513zM587.7 513V509.49h1V513zM588.4 513V508.91h1V513zM589.1 513V510.59h1V513zM589.8 513V507.56h1V513zM590.5 513V508.23h1V513zM591.2 513V505.73h1V513zM591.9 513V509.43h1V513zM592.6 513V507.03h1V513zM593.3 513V508.75h1V513zM594 513V507.95h1V513zM594.7 513V509.59h1V513zM595.4 513V510.11h1V513zM596.1 513V507.83h1V513zM596.8 513V510.33h1V513zM597.5 513V508.86h1V513zM598.2 513V509.9h1V513zM598.9 513V507.79h1V513zM599.6 513V510.33h1V513zM600.3 513V507.5h1V513zM601 513V509.79h1V513zM601.7 513V510.8h1V513zM602.4 513V506.2h1V513zM603.1 513V507.77h1V513zM433.7 513V508.24h1V513zM434.5 513V510.28h1V513zM435.3 513V510.54h1V513zM436.1 513V510.99h1V513zM436.9 513V510.42h1V513zM438.5 513V506.98h1V513zM439.3 513V504.19h1V513zM440.1 513V510.94h1V513zM440.9 513V504.91h1V513zM441.7 513V505.45h1V513zM442.5 513V510.91h1V513zM443.3 513V509.55h1V513zM444.9 513V510.58h1V513zM445.7 513V510.91h1V513zM447.3 513V508.75h1V513zM448.1 513V505.24h1V513zM448.9 513V505.98h1V513zM434.35 513V475.1h1.3V513zM434 513V491.8h1.2V513zM435.3 513V493h1V513zM438.45 513V492.7h1.1V513zM442.65 513V490.9h1.1V513zM446.4 513V498.8h1V513zM447.3 513V501h1V513zM448.2 513V502h1V513zM449.4 513V505h1V513zM464.65 513V491.8h1.3V513zM488.75 513V500.5h1.1V513zM503 513V503h1V513zM503.95 513V500.2h1.1V513zM504.9 513V503h1V513zM515.05 513V502.3h1.1V513zM516.1 513V505h1V513zM534.65 513V502.6h1.1V513zM533.8 513V504.5h1V513zM551.15 513V502.6h1.1V513zM556.95 513V473.7h1.3V513zM567.2 513V505h1V513zM572.1 513V497h1.2V513zM590.1 513V490.1h1.2V513zM600.85 513V472.9h1.3V513zM603.75 513V500h0.9V513zM604.65 513V458h1.1V513zM604.3 513V488h1V513zM605.4 513V484h1V513zM606.2 513V483.4h1V513zM606.9 513V480h1V513zM607.65 513V464.1h1.1V513zM608.4 513V478h1V513zM609.95 513V390.8h1.3V513zM608.65 513V423.4h2.3V513zM610.7 513V465.7h1V513zM611.3 513V490h0.6V513z" fill="#ff0000"/>
<path d="M433.5 350.6V513H635.6V350.6" fill="none" stroke="#3a3a3a" stroke-width="1"/>
<path d="M433.5 513v-3.2M470.25 513v-3.2M507 513v-3.2M543.75 513v-3.2M580.5 513v-3.2M617.25 513v-3.2M451.88 513v-1.8M488.62 513v-1.8M525.38 513v-1.8M562.12 513v-1.8M598.88 513v-1.8M433.5 350.6h3.2M433.5 383.08h3.2M433.5 415.56h3.2M433.5 448.04h3.2M433.5 480.52h3.2M433.5 513h3.2M433.5 366.84h1.8M433.5 399.32h1.8M433.5 431.8h1.8M433.5 464.28h1.8M433.5 496.76h1.8M635.6 350.6h-3.2M635.6 391.2h-3.2M635.6 431.8h-3.2M635.6 472.4h-3.2M635.6 513h-3.2M635.6 370.9h-1.8M635.6 411.5h-1.8M635.6 452.1h-1.8M635.6 492.7h-1.8" fill="none" stroke="#3a3a3a" stroke-width="1"/>
<path d="M433.7 503 C433.8 501.5 434.08 496.83 434.3 494 C434.52 491.17 434.75 488.28 435 486 C435.25 483.72 435.55 482.13 435.8 480.3 C436.05 478.47 436.25 476.47 436.5 475 C436.75 473.53 436.95 472.58 437.3 471.5 C437.65 470.42 438.1 469.35 438.6 468.5 C439.1 467.65 439.48 467.22 440.3 466.4 C441.12 465.58 442.25 464.43 443.5 463.6 C444.75 462.77 445.88 462.23 447.8 461.4 C449.72 460.57 452.48 459.43 455 458.6 C457.52 457.77 459.23 457.3 462.9 456.4 C466.57 455.5 471.97 454.25 477 453.2 C482.03 452.15 485.93 451.4 493.1 450.1 C500.27 448.8 510.18 447.12 520 445.4 C529.82 443.68 542.83 441.38 552 439.8 C561.17 438.22 568.1 437.07 575 435.9 C581.9 434.73 588.65 433.65 593.4 432.8 C598.15 431.95 601.15 431.35 603.5 430.8 C605.85 430.25 606.53 429.88 607.5 429.5 C608.47 429.12 608.83 428.92 609.3 428.5 C609.77 428.08 610.03 427.75 610.3 427 C610.57 426.25 610.8 424.5 610.9 424" fill="none" stroke="#111" stroke-width="0.95" stroke-linejoin="round" stroke-linecap="round"/>
<path d="M610.9 424 L611.2 414.7 L611.8 397.3 L612.5 379.8 L613.2 358.4" fill="none" stroke="#111" stroke-width="0.95" stroke-linejoin="round" stroke-linecap="round"/>
<text x="433.5" y="523.5" font-size="8.2" text-anchor="middle">0</text>
<text x="470.25" y="523.5" font-size="8.2" text-anchor="middle">1</text>
<text x="507" y="523.5" font-size="8.2" text-anchor="middle">2</text>
<text x="543.75" y="523.5" font-size="8.2" text-anchor="middle">3</text>
<text x="580.5" y="523.5" font-size="8.2" text-anchor="middle">4</text>
<text x="617.25" y="523.5" font-size="8.2" text-anchor="middle">5</text>
<text x="415.15 419.25 423.35 427.45" y="354" font-size="8.2" text-anchor="middle">1.30</text>
<text x="415.15 419.25 423.35 427.45" y="386.48" font-size="8.2" text-anchor="middle">1.25</text>
<text x="415.15 419.25 423.35 427.45" y="418.96" font-size="8.2" text-anchor="middle">1.20</text>
<text x="415.15 419.25 423.35 427.45" y="451.44" font-size="8.2" text-anchor="middle">1.15</text>
<text x="415.15 419.25 423.35 427.45" y="483.92" font-size="8.2" text-anchor="middle">1.10</text>
<text x="415.15 419.25 423.35 427.45" y="516.4" font-size="8.2" text-anchor="middle">1.05</text>
<text x="640.65 644.75 648.85 652.95 657.05 661.15" y="354.6" font-size="8.2" text-anchor="middle">1.6x10</text>
<text x="663.5" y="351.89" font-size="6.23" text-anchor="start">3</text>
<text x="640.65 644.75 648.85 652.95 657.05 661.15" y="395.2" font-size="8.2" text-anchor="middle">1.2x10</text>
<text x="663.5" y="392.49" font-size="6.23" text-anchor="start">3</text>
<text x="640.65 644.75 648.85 652.95 657.05 661.15" y="435.8" font-size="8.2" text-anchor="middle">8.0x10</text>
<text x="663.5" y="433.09" font-size="6.23" text-anchor="start">2</text>
<text x="640.65 644.75 648.85 652.95 657.05 661.15" y="476.4" font-size="8.2" text-anchor="middle">4.0x10</text>
<text x="663.5" y="473.69" font-size="6.23" text-anchor="start">2</text>
<text x="640.65 644.75 648.85" y="517" font-size="8.2" text-anchor="middle">0.0</text>
<path d="M442.8 356.4H460.4" stroke="#222" stroke-width="1.1" fill="none"/>
<rect x="442.8" y="363.2" width="17.6" height="8.5" fill="#ff0000"/>
<text x="464.9" y="358.92" font-size="8.4" text-anchor="start">axial strain</text>
<text x="464.9" y="370.22" font-size="8.4" text-anchor="start">AE rate</text>
<text x="524.65 528.75 532.85 536.95 541.05 545.15" y="529.7" font-size="7.4" text-anchor="middle" style="font-family:'Liberation Mono',monospace">time/h</text>
<text transform="translate(410 434.3) rotate(-90)" font-size="8.6" text-anchor="middle">axial strain/10<tspan font-size="6.02" dy="-4.13">-2</tspan></text>
<text transform="translate(674.5 433.6) rotate(-90)" font-size="8.4" text-anchor="middle">AE rate(aJ/s)</text>
<text x="529" y="568.2" font-size="19.8" text-anchor="middle" font-weight="normal" fill="#000" stroke="#000" stroke-width="0.3">(d)</text>
</g>
</svg></body></html>
